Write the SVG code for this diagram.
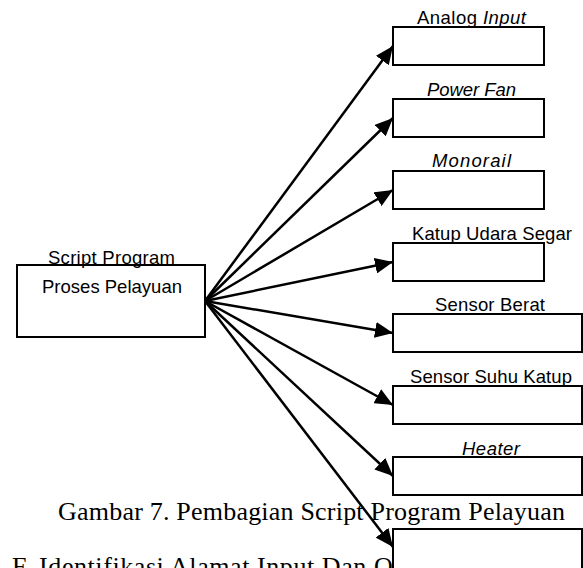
<svg xmlns="http://www.w3.org/2000/svg" width="583" height="568" viewBox="0 0 583 568">
<style>
.box{fill:#fff;stroke:#000;stroke-width:2}
.lbl{font-family:"Liberation Sans",Arial,sans-serif;font-size:18.5px;fill:#000}
.it{font-style:italic}
.cap{font-family:"Liberation Serif","Times New Roman",serif;font-size:26px;fill:#000}
.con line{stroke:#000;stroke-width:2.5;marker-end:url(#ah)}
</style>
<defs>
<marker id="ah" markerUnits="userSpaceOnUse" markerWidth="19" markerHeight="16" refX="18" refY="8" orient="auto">
<path d="M0,0 L18,8 L0,16 z" fill="#000"/>
</marker>
</defs>
<rect width="583" height="568" fill="#fff"/>
<text class="cap" x="58" y="520" textLength="507" lengthAdjust="spacing">Gambar 7. Pembagian Script Program Pelayuan</text>
<text class="cap" x="12" y="575" textLength="437" lengthAdjust="spacing">F. Identifikasi Alamat Input Dan Output</text>
<g id="connectors" class="con">
<line x1="205" y1="301" x2="393" y2="46"/>
<line x1="205" y1="301" x2="393" y2="118"/>
<line x1="205" y1="301" x2="393" y2="190"/>
<line x1="205" y1="301" x2="393" y2="262"/>
<line x1="205" y1="301" x2="393" y2="333"/>
<line x1="205" y1="301" x2="393" y2="405"/>
<line x1="205" y1="301" x2="393" y2="476"/>
<line x1="205" y1="301" x2="393" y2="547"/>
</g>
<g id="main">
<rect class="box" x="17" y="265" width="188" height="72"/>
<text class="lbl" x="48" y="264" textLength="127" lengthAdjust="spacing">Script Program</text>
<text class="lbl" x="42" y="293" textLength="140" lengthAdjust="spacing">Proses Pelayuan</text>
</g>
<g id="n1">
<text class="lbl" x="417" y="24" textLength="109" lengthAdjust="spacing">Analog <tspan class="it">Input</tspan></text>
<rect class="box" x="393" y="27" width="151" height="38"/>
</g>
<g id="n2">
<text class="lbl it" x="427" y="96" textLength="89" lengthAdjust="spacing">Power Fan</text>
<rect class="box" x="393" y="99" width="151" height="38"/>
</g>
<g id="n3">
<text class="lbl it" x="432" y="167" textLength="79" lengthAdjust="spacing">Monorail</text>
<rect class="box" x="393" y="171" width="151" height="38"/>
</g>
<g id="n4">
<text class="lbl" x="412" y="240" textLength="160" lengthAdjust="spacing">Katup Udara Segar</text>
<rect class="box" x="393" y="243" width="151" height="38"/>
</g>
<g id="n5">
<text class="lbl" x="435" y="311" textLength="110" lengthAdjust="spacing">Sensor Berat</text>
<rect class="box" x="393" y="314" width="189" height="38"/>
</g>
<g id="n6">
<text class="lbl" x="410" y="383" textLength="162" lengthAdjust="spacing">Sensor Suhu Katup</text>
<rect class="box" x="393" y="386" width="189" height="38"/>
</g>
<g id="n7">
<text class="lbl it" x="462" y="455" textLength="58" lengthAdjust="spacing">Heater</text>
<rect class="box" x="393" y="457" width="189" height="38"/>
</g>
<g id="n8">
<rect class="box" x="393" y="529" width="189" height="42"/>
</g>
</svg>
